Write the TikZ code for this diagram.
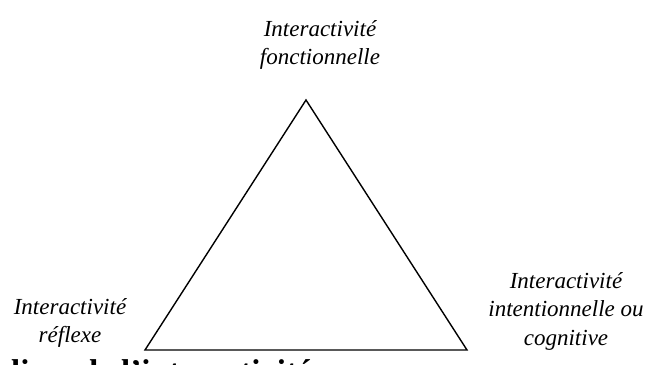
\documentclass[tikz,border=0pt]{standalone}
\usepackage{fontspec}
\setmainfont{Liberation Serif}
\begin{document}
\begin{tikzpicture}[x=1pt,y=-1pt,
  lab/.style={align=center,inner sep=0pt,font=\fontsize{23}{28.5}\selectfont\itshape},
  edge/.style={line width=1.4pt,line join=miter}]
\useasboundingbox (0,0) rectangle (661,364);
\clip (0,0) rectangle (661,364);
\fill[white] (0,0) rectangle (661,364);
\coordinate (A) at (306,100);
\coordinate (B) at (145,350);
\coordinate (C) at (467,350);
\draw[edge] (A) -- (B) -- (C) -- cycle;
\node[lab] (top) at (320,45) {Interactivité\\fonctionnelle};
\node[lab] (left) at (70,323) {Interactivité\\réflexe};
\node[lab] (right) at (566,311) {Interactivité\\intentionnelle ou\\cognitive};
\node[anchor=base west,inner sep=0pt,font=\fontsize{33}{40}\selectfont\bfseries] (cap) at (11,382) {liers de l'interactivité};
\end{tikzpicture}
\end{document}
